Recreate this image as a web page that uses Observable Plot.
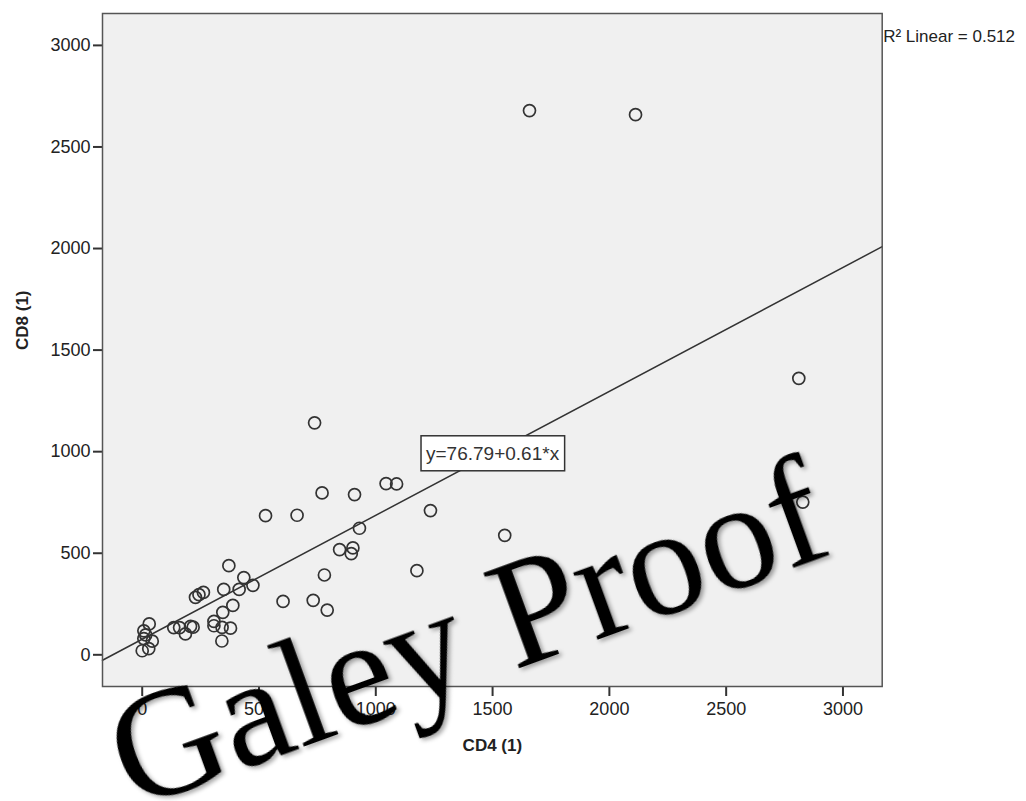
<!DOCTYPE html>
<html>
<head>
<meta charset="utf-8">
<script src="https://cdn.jsdelivr.net/npm/d3@7"></script>
<script src="https://cdn.jsdelivr.net/npm/@observablehq/plot@0.6"></script>
<style>
  html, body { margin: 0; padding: 0; background: #fff; }
  #chart { position: relative; width: 1026px; height: 801px; }
</style>
</head>
<body>
<div id="chart"></div>
<script>
// ---- data ----
const cd4 = [738, 770, 909, 1044, 1089, 528, 663, 1234, 930, 845, 902, 895, 1176, 780,
  603, 732, 792, 371, 435, 474, 415, 349, 388, 345, 307, 307, 342, 378, 341, 262, 243,
  228, 135, 160, 185, 207, 218, 30, 7, 7, 43, 0, 28, 15, 1658, 2112, 2811, 2828, 1552];
const cd8 = [1142, 797, 789, 843, 841, 685, 687, 710, 623, 518, 526, 498, 414, 393,
  263, 268, 220, 439, 380, 342, 322, 322, 243, 209, 165, 143, 135, 131, 68, 307, 296,
  283, 134, 134, 103, 140, 136, 152, 118, 80, 67, 20, 30, 98, 2679, 2659, 1361, 752, 588];
const fitCoef = [76.79, 0.61];           // intercept, slope
const xTicks = [0, 500, 1000, 1500, 2000, 2500, 3000];
const yTicks = [0, 500, 1000, 1500, 2000, 2500, 3000];
const xLabel = "CD4 (1)";
const yLabel = "CD8 (1)";
const fitLabel = "y=76.79+0.61*x";
const r2Label = "R² Linear = 0.512";
const watermark = "Galey Proof";

const xDomain = [-170, 3168];
const yDomain = [-156, 3157];

const points = cd4.map((x, i) => ({x, y: cd8[i]}));
const fitLine = xDomain.map(x => ({x, y: fitCoef[0] + fitCoef[1] * x}));

const plot = Plot.plot({
  width: 1026,
  height: 801,
  marginLeft: 102,
  marginRight: 144.3,
  marginTop: 13,
  marginBottom: 115,
  style: {fontFamily: "Liberation Sans, Arial, sans-serif", fontSize: "18px", color: "#222", background: "transparent"},
  x: {domain: xDomain},
  y: {domain: yDomain},
  marks: [
    Plot.frame({fill: "#f0f0f0", stroke: null}),
    Plot.axisX({ticks: xTicks, tickSize: 10, tickPadding: 6, label: null, tickFormat: d => String(d), stroke: "#333", strokeWidth: 2, fontSize: 18}),
    Plot.axisY({ticks: yTicks, tickSize: 9, tickPadding: 3, label: null, tickFormat: d => String(d), stroke: "#333", strokeWidth: 2, fontSize: 18}),
    Plot.line(fitLine, {x: "x", y: "y", stroke: "#333", strokeWidth: 1.5}),
    Plot.dot(points, {x: "x", y: "y", r: 6, stroke: "#333", strokeWidth: 1.7, fill: "none"}),
    Plot.text([fitLabel], {x: () => 1500, y: () => 990, text: d => d, fontSize: 19, fill: "#333", className: "fitlabel"}),
    Plot.text([r2Label], {frameAnchor: "top-right", text: d => d, textAnchor: "start", dx: 1, dy: 16, fontSize: 17, fill: "#222"}),
    Plot.text([xLabel], {frameAnchor: "bottom", text: d => d, dy: 64, fontWeight: "bold", fontSize: 17, fill: "#222"}),
    Plot.text([yLabel], {frameAnchor: "left", text: d => d, dx: -80, rotate: -90, fontWeight: "bold", fontSize: 17, fill: "#222"}),
    Plot.frame({stroke: "#555", strokeWidth: 1.5})
  ]
});

document.getElementById("chart").appendChild(plot);

// box around equation label
const svg = d3.select(plot);
svg.selectAll(".fitlabel text").each(function () {
  const bb = this.getBBox();
  const tr = this.getAttribute("transform");
  const r = d3.select(this.parentNode).insert("rect", "text")
    .attr("x", bb.x - 5).attr("y", bb.y - 7)
    .attr("width", bb.width + 10).attr("height", bb.height + 14)
    .attr("fill", "#fff").attr("stroke", "#333").attr("stroke-width", 1.5);
  if (tr) r.attr("transform", tr);
});

// watermark
const defs = svg.append("defs");
const f = defs.append("filter").attr("id", "wmshadow").attr("x", "-10%").attr("y", "-10%").attr("width", "120%").attr("height", "130%");
f.append("feDropShadow").attr("dx", 2).attr("dy", 3).attr("stdDeviation", 2).attr("flood-color", "#000").attr("flood-opacity", 0.35);
svg.append("text")
  .attr("transform", "translate(484,681) rotate(-20)")
  .attr("text-anchor", "middle")
  .attr("font-family", "Liberation Serif, Times New Roman, serif")
  .attr("font-size", 154)
  .attr("fill", "#000")
  .attr("filter", "url(#wmshadow)")
  .text(watermark);
</script>
</body>
</html>
